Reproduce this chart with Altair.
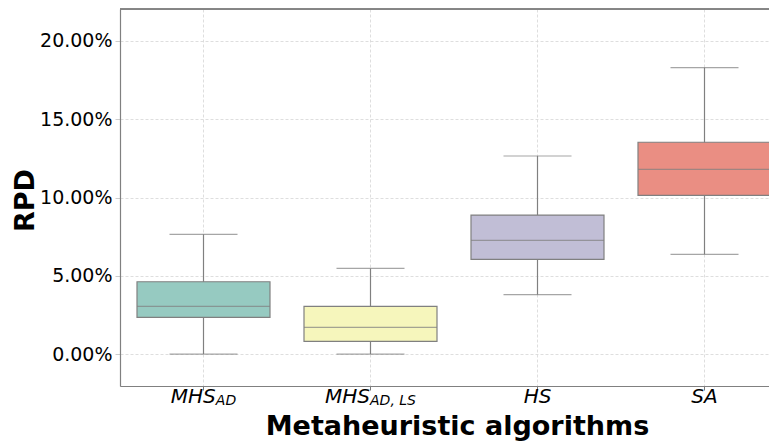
import altair as alt
import pandas as pd

categories = ["MHS_AD", "MHS_AD,LS", "HS", "SA"]
label_main = ["MHS", "MHS", "HS", "SA"]
label_sub = ["AD", "AD, LS", "", ""]
mins = [0.00, 0.00, 3.79, 6.37]
q1s = [2.34, 0.81, 6.05, 10.14]
medians = [3.05, 1.70, 7.26, 11.80]
q3s = [4.62, 3.05, 8.88, 13.53]
maxs = [7.65, 5.47, 12.65, 18.30]
colors = ["#96cac1", "#f6f6bc", "#c1bed6", "#ea8e83"]
y_ticks = [0.0, 0.05, 0.10, 0.15, 0.20]

df = pd.DataFrame({
    "cat": categories,
    "main": label_main,
    "sub": label_sub,
    "lo": [v / 100 for v in mins],
    "q1": [v / 100 for v in q1s],
    "med": [v / 100 for v in medians],
    "q3": [v / 100 for v in q3s],
    "hi": [v / 100 for v in maxs],
})

W, H = 649, 377
RANGE_W = 668
LINE = "#808080"
GRID = "#d6d6d6"
FONT = "DejaVu Sans"

xscale = alt.Scale(domain=categories, range=[0, RANGE_W], paddingInner=0, paddingOuter=0)
yscale = alt.Scale(domain=[-0.0204, 0.2204], nice=False, zero=False)

X_TITLE = "Metaheuristic algorithms"
Y_TITLE = "RPD"


def xe():
    return alt.X("cat:N", sort=categories, scale=xscale, title=X_TITLE)


def ye(field):
    return alt.Y(field, scale=yscale, title=Y_TITLE,
                 axis=alt.Axis(values=y_ticks, format=".2%"))


base = alt.Chart(df)

whisker = base.mark_rule(color=LINE, strokeWidth=1.2).encode(
    x=xe(), y=ye("lo:Q"), y2="hi:Q")
box = base.mark_bar(size=133, stroke=LINE, strokeWidth=1.2).encode(
    x=xe(), y=ye("q1:Q"), y2="q3:Q",
    color=alt.Color("cat:N", scale=alt.Scale(domain=categories, range=colors), legend=None),
)
median = base.mark_tick(size=133, thickness=1.2, color=LINE).encode(x=xe(), y=ye("med:Q"))
cap_lo = base.mark_tick(size=68, thickness=1.2, color=LINE).encode(x=xe(), y=ye("lo:Q"))
cap_hi = base.mark_tick(size=68, thickness=1.2, color=LINE).encode(x=xe(), y=ye("hi:Q"))

top_border = base.mark_rule(color=LINE, strokeWidth=1.2).encode(
    x=alt.value(0), x2=alt.value(RANGE_W), y=alt.value(0))

# approximate glyph advance widths (DejaVu Sans), used to centre composite labels
ADV = {"M": 0.863, "H": 0.752, "S": 0.635, "A": 0.684, "D": 0.770, ",": 0.318,
       " ": 0.318, "L": 0.557}


def text_w(s, size):
    return sum(ADV.get(ch, 0.6) for ch in s) * size


MAIN_SIZE, SUB_SIZE = 20, 14
label_layers = []
for cat, m, s in zip(categories, label_main, label_sub):
    wm = text_w(m, MAIN_SIZE)
    ws = text_w(s, SUB_SIZE)
    total = wm + ws
    sel = base.transform_filter(alt.datum.cat == cat)
    label_layers.append(
        sel.mark_text(align="left", baseline="alphabetic", dx=-total / 2,
                      fontSize=MAIN_SIZE, fontStyle="italic", font=FONT, color="black")
        .encode(x=xe(), y=alt.value(394), text="main:N"))
    if s:
        label_layers.append(
            sel.mark_text(align="left", baseline="alphabetic", dx=-total / 2 + wm,
                          fontSize=SUB_SIZE, fontStyle="italic", font=FONT, color="black")
            .encode(x=xe(), y=alt.value(396), text="sub:N"))

chart = alt.layer(whisker, box, median, cap_lo, cap_hi, top_border, *label_layers).properties(
    width=W, height=H,
    autosize=alt.AutoSizeParams(type="none"),
    padding={"left": 112, "top": 1, "right": 0, "bottom": 56},
).configure_view(stroke=None).configure(background="white").configure_axis(
    domainColor=LINE, domainWidth=1.2, grid=True, gridColor=GRID,
    gridDash=[3, 2], gridWidth=0.8, titleFont=FONT, titleFontSize=27,
    titleFontWeight="bold", titleColor="black", labelFont=FONT, labelColor="black",
).configure_axisX(
    labels=False, ticks=True, tickSize=4, tickColor="#777777", bandPosition=0.5,
    titleX=337, titleY=48, titleBaseline="alphabetic", titleAlign="center",
    titleAnchor="start",
).configure_axisY(
    labelFontSize=19, labelPadding=3, tickSize=5, tickColor="#cccccc",
    titleAngle=270, titleX=-87, titleY=191, titleBaseline="alphabetic",
    titleAlign="center", titleAnchor="start",
)

chart.save("out.html", embed_options={"renderer": "svg", "actions": False})
